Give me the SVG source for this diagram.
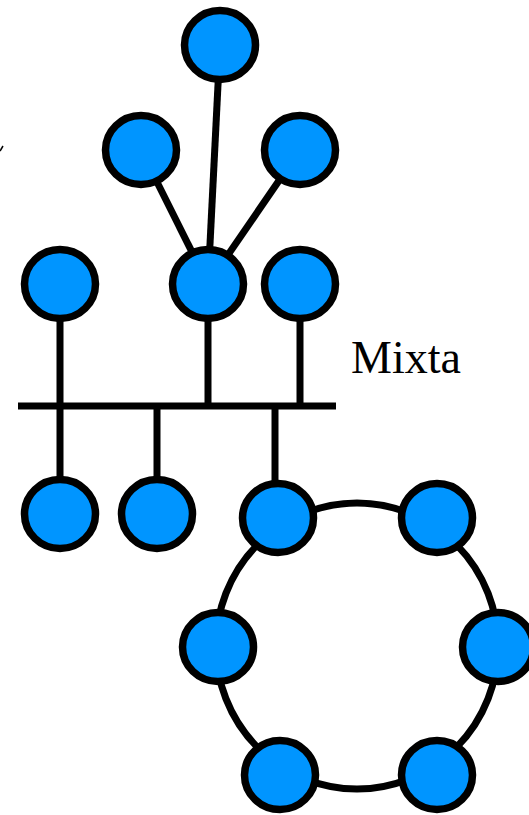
<svg xmlns="http://www.w3.org/2000/svg" width="529" height="815" viewBox="0 0 529 815">
<style>
.n{fill:#0095ff;stroke:#000;stroke-width:7.5}
.c{stroke:#000;stroke-width:7;fill:none}
.t{font-family:"Liberation Serif","Times New Roman",serif;font-size:46px;fill:#000}
</style>
<rect width="529" height="815" fill="#fff"/>
<path d="M0,151 L3,146" stroke="#000" stroke-width="1.5"/>
<g id="connectors">
<line class="c" x1="220" y1="45" x2="208" y2="284"/>
<line class="c" x1="141" y1="150" x2="208" y2="284"/>
<line class="c" x1="300" y1="150" x2="208" y2="284"/>
<line class="c" x1="60" y1="284" x2="60" y2="514"/>
<line class="c" x1="208" y1="284" x2="208" y2="406"/>
<line class="c" x1="300" y1="284" x2="300" y2="406"/>
<line class="c" x1="18" y1="406" x2="336" y2="406"/>
<line class="c" x1="157" y1="406" x2="157" y2="514"/>
<line class="c" x1="275" y1="406" x2="275" y2="518"/>
<ellipse class="c" cx="357" cy="646" rx="141" ry="143"/>
</g>
<g id="n1"><ellipse class="n" cx="220" cy="45" rx="35.5" ry="34.5"/></g>
<g id="n2"><ellipse class="n" cx="141" cy="150" rx="35.5" ry="34.5"/></g>
<g id="n3"><ellipse class="n" cx="300" cy="150" rx="35.5" ry="34.5"/></g>
<g id="n4"><ellipse class="n" cx="60" cy="284" rx="35.5" ry="34.5"/></g>
<g id="n5"><ellipse class="n" cx="208" cy="284" rx="35.5" ry="34.5"/></g>
<g id="n6"><ellipse class="n" cx="300" cy="284" rx="35.5" ry="34.5"/></g>
<g id="n7"><ellipse class="n" cx="60" cy="514" rx="35.5" ry="34.5"/></g>
<g id="n8"><ellipse class="n" cx="157" cy="514" rx="35.5" ry="34.5"/></g>
<g id="n9"><ellipse class="n" cx="278" cy="518" rx="35.5" ry="34.5"/></g>
<g id="n10"><ellipse class="n" cx="437" cy="518" rx="35.5" ry="34.5"/></g>
<g id="n11"><ellipse class="n" cx="218" cy="647" rx="35.5" ry="34.5"/></g>
<g id="n12"><ellipse class="n" cx="498" cy="647" rx="35.5" ry="34.5"/></g>
<g id="n13"><ellipse class="n" cx="280" cy="775" rx="35.5" ry="34.5"/></g>
<g id="n14"><ellipse class="n" cx="437" cy="775" rx="35.5" ry="34.5"/></g>
<g id="label"><text class="t" x="351" y="373">Mixta</text></g>
</svg>
